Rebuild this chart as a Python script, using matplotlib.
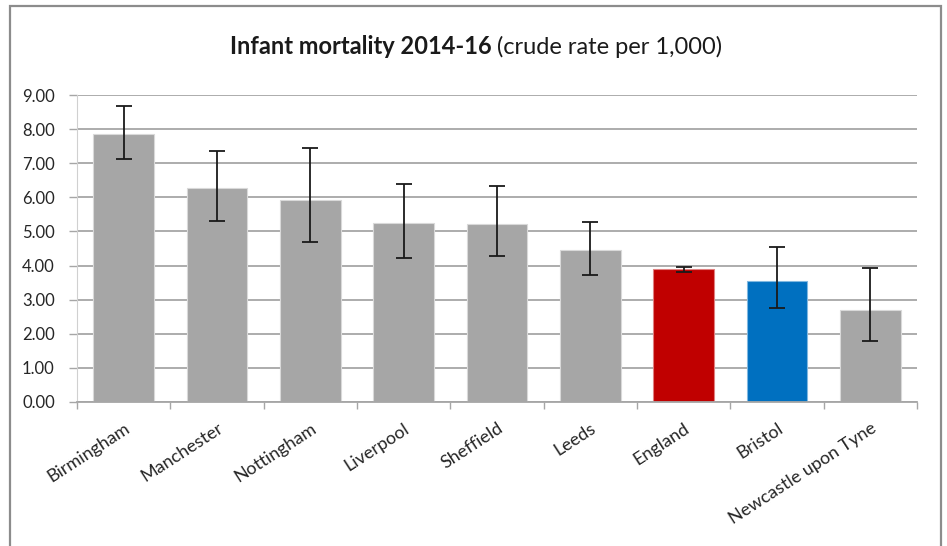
import matplotlib
matplotlib.use("Agg")
import matplotlib.pyplot as plt
from matplotlib.patches import Rectangle
import numpy as np

plt.rcParams['font.family'] = ['Lato', 'DejaVu Sans']

categories = ["Birmingham", "Manchester", "Nottingham", "Liverpool", "Sheffield",
              "Leeds", "England", "Bristol", "Newcastle upon Tyne"]
values = [7.86, 6.27, 5.93, 5.25, 5.22, 4.46, 3.89, 3.56, 2.69]
upper = [8.67, 7.35, 7.44, 6.40, 6.34, 5.27, 3.97, 4.53, 3.92]
lower = [7.13, 5.32, 4.68, 4.21, 4.28, 3.72, 3.81, 2.76, 1.78]
colors = ["#a6a6a6"] * 6 + ["#c00000", "#0070c0", "#a6a6a6"]
yticks = [0, 1, 2, 3, 4, 5, 6, 7, 8, 9]

W, H = 947, 546
fig = plt.figure(figsize=(W / 100, H / 100), dpi=100)
ax = fig.add_axes([77 / W, 1 - 402 / H, (917 - 77) / W, (402 - 95) / H])

x = np.arange(len(categories))
vals = np.array(values)
yerr = np.array([vals - np.array(lower), np.array(upper) - vals])
ax.bar(x, values, width=0.65, color=colors, zorder=2,
       edgecolor=["#d9d9d9"] * 6 + ["#e08080", "#80b8e0", "#d9d9d9"], linewidth=0.8)
ax.errorbar(x, values, yerr=yerr, fmt='none', ecolor='#1a1a1a', elinewidth=1.3,
            capsize=5.5, capthick=1.3, zorder=3)

ax.set_xlim(-0.5, len(categories) - 0.5)
ax.set_ylim(0, 9)
ax.set_yticks(yticks)
ax.set_yticklabels([f"{v:.2f}" for v in yticks], fontsize=12, color='#262626')
ax.yaxis.grid(True, color='#a6a6a6', linewidth=1.3, zorder=0)
ax.set_axisbelow(True)

ax.set_xticks(x)
ax.set_xticklabels(categories, rotation=33, ha='right', rotation_mode='anchor',
                   fontsize=13, color='#262626')
ax.tick_params(axis='x', which='major', length=0, pad=13)
ax.set_xticks(np.arange(-0.5, len(categories), 1.0), minor=True)
ax.tick_params(axis='x', which='minor', length=5, color='#a6a6a6', width=1)
ax.tick_params(axis='y', length=6, color='#a6a6a6', width=1, pad=10)

for s in ['top', 'right']:
    ax.spines[s].set_visible(False)
ax.spines['left'].set_color('#d0d0d0')
ax.spines['bottom'].set_color('#a6a6a6')
ax.spines['bottom'].set_linewidth(1.3)

# chart border
fig.patches.append(Rectangle((10 / W, -0.05), (941 - 10) / W, 1.05 - 6 / H,
                             transform=fig.transFigure, fill=False,
                             edgecolor='#8c8c8c', linewidth=1.6))

# title: bold part + regular part, centred together
fig.canvas.draw()
r = fig.canvas.get_renderer()
t1 = fig.text(0, 1 - 47 / H, "Infant mortality 2014-16", fontsize=17, fontweight='bold',
              va='center', ha='left', color='#1a1a1a')
t2 = fig.text(0, 1 - 47 / H, " (crude rate per 1,000)", fontsize=17,
              va='center', ha='left', color='#1a1a1a')
w1 = t1.get_window_extent(r).width
w2 = t2.get_window_extent(r).width
cx = 476
start = cx - (w1 + w2) / 2
t1.set_x(start / W)
t2.set_x((start + w1) / W)

fig.savefig("out.png", dpi=100)
